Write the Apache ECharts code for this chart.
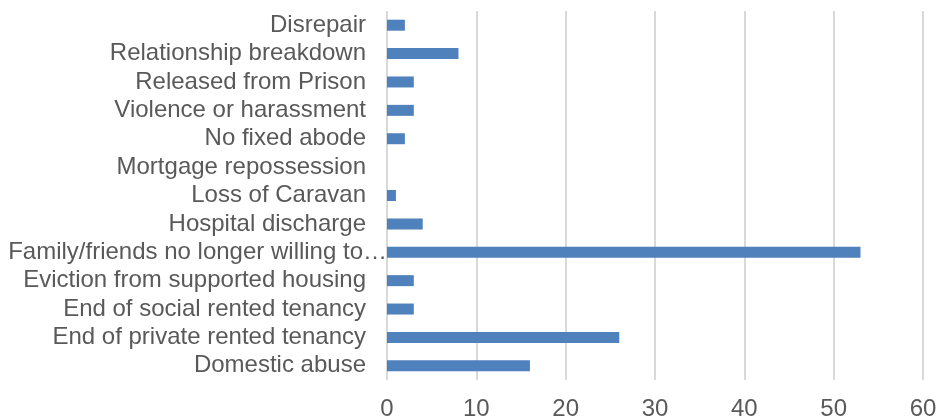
<!DOCTYPE html>
<html>
<head>
<meta charset="utf-8">
<script src="https://cdn.jsdelivr.net/npm/echarts@6/dist/echarts.min.js"></script>
<style>html,body{margin:0;padding:0;background:#fff}#c{width:940px;height:417px}</style>
</head>
<body>
<div id="c"></div>
<script>
// Categories listed bottom to top (as drawn)
const categories = [
  "Domestic abuse",
  "End of private rented tenancy",
  "End of social rented tenancy",
  "Eviction from supported housing",
  "Family/friends no longer willing to…",
  "Hospital discharge",
  "Loss of Caravan",
  "Mortgage repossession",
  "No fixed abode",
  "Violence or harassment",
  "Released from Prison",
  "Relationship breakdown",
  "Disrepair"
];
const values = [16, 26, 3, 3, 53, 4, 1, 0, 2, 3, 3, 8, 2];
const xTicks = [0, 10, 20, 30, 40, 50, 60];

const chart = echarts.init(document.getElementById('c'), null, {renderer: 'canvas'});
const font = 'Liberation Sans, Arial, sans-serif';
chart.setOption({
  animation: false,
  grid: {left: 387, right: 17, top: 11, bottom: 37, containLabel: false, outerBoundsMode: 'none'},
  xAxis: {
    type: 'value',
    min: xTicks[0],
    max: xTicks[xTicks.length - 1],
    interval: 10,
    axisLine: {show: false},
    axisTick: {show: false},
    splitLine: {show: true, lineStyle: {color: '#d9d9d9', width: 2}},
    axisLabel: {color: '#595959', fontSize: 24, fontFamily: font, margin: 17}
  },
  yAxis: {
    type: 'category',
    data: categories,
    axisLine: {show: false},
    axisTick: {show: false},
    axisLabel: {
      color: '#595959', fontSize: 24, fontFamily: font, margin: 0, interval: 0,
      formatter: function (v) { return v.endsWith('…') ? v : v + '{s|}'; },
      rich: {s: {width: 21}}
    }
  },
  series: [{
    type: 'bar',
    data: values,
    barWidth: 11,
    itemStyle: {color: '#4f81bd'}
  }]
});
</script>
</body>
</html>
